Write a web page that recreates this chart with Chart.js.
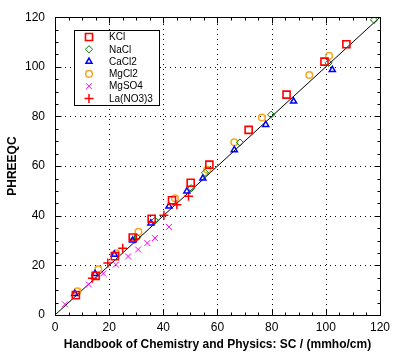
<!DOCTYPE html>
<html>
<head>
<meta charset="utf-8">
<script src="https://cdn.jsdelivr.net/npm/chart.js@4.4.1/dist/chart.umd.min.js"></script>
<style>
    html, body { margin: 0; padding: 0; background: #fff; }
</style>
</head>
<body>
<canvas id="chart" width="395" height="362"></canvas>
<script>
// --- Data ---
const kclX = [7.7, 15.0, 22.1, 28.7, 35.7, 43.2, 50.1, 57.0, 71.5, 85.5, 99.5, 107.6];
const kclY = [8.0, 15.8, 23.7, 31.2, 38.8, 46.2, 53.3, 60.6, 74.6, 88.8, 102.1, 109.1];

const naclX = [30.3, 36.9, 50.3, 55.4, 68.3, 79.8, 101.0, 117.8];
const naclY = [31.2, 38.0, 51.1, 57.3, 69.5, 80.7, 101.6, 118.9];

const cacl2X = [7.3, 14.8, 21.9, 28.7, 35.4, 42.1, 48.7, 54.6, 66.2, 77.8, 88.1, 102.4];
const cacl2Y = [8.6, 16.6, 24.4, 30.1, 37.0, 43.8, 49.9, 55.1, 66.5, 76.7, 86.1, 98.8];

const mgcl2X = [8.3, 16.0, 22.6, 30.8, 44.3, 56.2, 66.2, 76.4, 93.9, 101.2];
const mgcl2Y = [9.6, 18.4, 24.9, 33.5, 47.0, 58.5, 69.6, 79.6, 96.7, 104.4];

const mgso4X = [3.7, 12.5, 17.8, 22.5, 27.0, 30.7, 34.1, 36.9, 42.1];
const mgso4Y = [4.3, 12.3, 16.7, 20.3, 23.6, 26.4, 29.0, 31.0, 35.5];

const laX = [13.8, 19.5, 25.0, 29.5, 40.2, 45.0, 49.3];
const laY = [14.8, 21.0, 26.9, 30.6, 40.2, 44.4, 47.9];

// 1:1 line
const lineX = [0, 120];
const lineY = [0, 120];

const majorTicks = [0, 20, 40, 60, 80, 100, 120];
const minorStep = 5;
const xTitle = 'Handbook of Chemistry and Physics: SC / (mmho/cm)';
const yTitle = 'PHREEQC';

const FONT = "'Liberation Sans', Arial, sans-serif";

function pts(xs, ys) {
    return xs.map((v, i) => ({ x: v, y: ys[i] }));
}

function series(label, xs, ys, style, radius, color, width) {
    return {
        label,
        data: pts(xs, ys),
        pointStyle: style,
        pointRadius: radius,
        pointHoverRadius: radius,
        pointBorderColor: color,
        pointBackgroundColor: 'rgba(0,0,0,0)',
        pointBorderWidth: width,
        borderColor: color,
        showLine: false
    };
}

const datasets = [
    series('KCl', kclX, kclY, 'rect', 5, '#ff0000', 1.6),
    series('NaCl', naclX, naclY, 'rectRot', 3.6, '#008000', 1),
    series('CaCl2', cacl2X, cacl2Y, 'triangle', 3.5, '#0000ff', 1.5),
    series('MgCl2', mgcl2X, mgcl2Y, 'circle', 3.3, '#f5a623', 1.5),
    series('MgSO4', mgso4X, mgso4Y, 'crossRot', 4.2, '#ff00ff', 1),
    series('La(NO3)3', laX, laY, 'cross', 4.5, '#ff0000', 1.5),
    {
        label: '1:1',
        data: pts(lineX, lineY),
        showLine: true,
        pointRadius: 0,
        borderColor: '#000',
        borderWidth: 1,
        order: 10,
        inLegend: false
    }
];

// --- Frame, dotted grid and inward ticks ---
const framePlugin = {
    id: 'frame',
    beforeDatasetsDraw(chart) {
        const { ctx, chartArea: a, scales: { x, y } } = chart;
        ctx.save();
        ctx.strokeStyle = '#000';
        ctx.lineWidth = 1;
        ctx.setLineDash([1, 4]);
        majorTicks.forEach(v => {
            if (v === x.min || v === x.max) return;
            const px = Math.round(x.getPixelForValue(v)) + 0.5;
            ctx.beginPath();
            ctx.moveTo(px, a.bottom);
            ctx.lineTo(px, a.top);
            ctx.stroke();
            const py = Math.round(y.getPixelForValue(v)) + 0.5;
            ctx.beginPath();
            ctx.moveTo(a.left, py);
            ctx.lineTo(a.right, py);
            ctx.stroke();
        });
        ctx.restore();
    },
    afterDatasetsDraw(chart) {
        const { ctx, chartArea: a, scales: { x, y } } = chart;
        const L = Math.round(a.left) + 0.5, R = Math.round(a.right) + 0.5;
        const T = Math.round(a.top) + 0.5, B = Math.round(a.bottom) + 0.5;
        ctx.save();
        ctx.strokeStyle = '#000';
        ctx.lineWidth = 1;
        ctx.strokeRect(L, T, R - L, B - T);
        ctx.beginPath();
        for (let v = x.min; v <= x.max; v += minorStep) {
            const len = majorTicks.includes(v) ? 6 : 3;
            const px = Math.round(x.getPixelForValue(v)) + 0.5;
            ctx.moveTo(px, B); ctx.lineTo(px, B - len);
            ctx.moveTo(px, T); ctx.lineTo(px, T + len);
        }
        for (let v = y.min; v <= y.max; v += minorStep) {
            const len = majorTicks.includes(v) ? 6 : 3;
            const py = Math.round(y.getPixelForValue(v)) + 0.5;
            ctx.moveTo(L, py); ctx.lineTo(L + len, py);
            ctx.moveTo(R, py); ctx.lineTo(R - len, py);
        }
        ctx.stroke();
        ctx.restore();
    }
};

// --- Boxed legend inside the plot ---
const legendPlugin = {
    id: 'boxLegend',
    afterDraw(chart) {
        const { ctx } = chart;
        const box = { x: 74.5, y: 30.5, w: 85, h: 75 };
        ctx.save();
        ctx.fillStyle = '#fff';
        ctx.fillRect(box.x, box.y, box.w, box.h);
        ctx.strokeStyle = '#000';
        ctx.lineWidth = 1;
        ctx.strokeRect(box.x, box.y, box.w, box.h);
        ctx.font = `10px ${FONT}`;
        ctx.textBaseline = 'middle';
        let row = 0;
        chart.data.datasets.forEach(ds => {
            if (ds.inLegend === false) return;
            const cy = 37 + row * 12.3;
            ctx.strokeStyle = ds.pointBorderColor;
            ctx.fillStyle = 'rgba(0,0,0,0)';
            ctx.lineWidth = ds.pointBorderWidth;
            Chart.helpers.drawPoint(ctx, {
                pointStyle: ds.pointStyle,
                radius: ds.pointRadius,
                borderWidth: ds.pointBorderWidth,
                rotation: 0
            }, 89, cy);
            ctx.fillStyle = '#000';
            ctx.fillText(ds.label, 109, cy + 0.5);
            row++;
        });
        ctx.restore();
    }
};

const tickFont = { family: FONT, size: 12 };
const titleFont = { family: FONT, size: 12, weight: 'bold' };

new Chart(document.getElementById('chart'), {
    type: 'scatter',
    data: { datasets },
    options: {
        responsive: false,
        animation: false,
        layout: { padding: { top: 16, right: 14, left: 0, bottom: 0 } },
        plugins: { legend: { display: false }, tooltip: { enabled: false } },
        scales: {
            x: {
                type: 'linear',
                min: 0,
                max: 120,
                afterBuildTicks: s => { s.ticks = majorTicks.map(v => ({ value: v })); },
                afterFit: s => { s.height = 47; },
                grid: { display: false, drawTicks: false },
                border: { display: false },
                ticks: { color: '#000', font: tickFont, padding: 5, maxRotation: 0 },
                title: { display: true, text: xTitle, color: '#000', font: titleFont, padding: { top: 0, bottom: 10 } }
            },
            y: {
                type: 'linear',
                min: 0,
                max: 120,
                afterBuildTicks: s => { s.ticks = majorTicks.map(v => ({ value: v })); },
                afterFit: s => { s.width = 55; },
                grid: { display: false, drawTicks: false },
                border: { display: false },
                ticks: { color: '#000', font: tickFont, padding: 10 },
                title: { display: true, text: yTitle, color: '#000', font: titleFont, padding: { top: 5, bottom: 0 } }
            }
        }
    },
    plugins: [framePlugin, legendPlugin]
});
</script>
</body>
</html>
